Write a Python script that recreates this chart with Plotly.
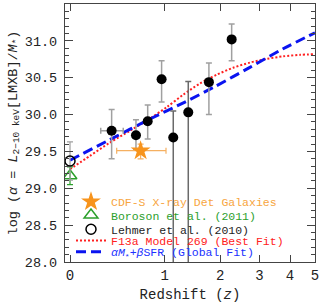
import plotly.graph_objects as go

# ---------------- data ----------------
# stacked black points
z_pts = [0.356, 0.620, 0.765, 0.954, 1.128, 1.375, 1.762, 2.262]
y_pts = [29.78, 29.72, 29.91, 30.48, 29.69, 30.03, 30.44, 31.02]
y_err_up = [0.29, 0.21, 0.22, 0.25, 0.36, 0.42, 0.26, 0.21]
y_err_dn = [0.38, 0.19, 0.24, 0.31, 2.00, 2.50, 0.44, 0.29]
z_lo = [0.252, 0.605, 0.750, 0.935, 1.110, 1.355, 1.735, 2.200]
z_hi = [0.476, 0.635, 0.780, 0.973, 1.146, 1.395, 1.789, 2.324]
err_col = ["#a0a0a0", "#a0a0a0", "#a0a0a0", "#a0a0a0", "#6a6a6a", "#6a6a6a", "#a0a0a0", "#a0a0a0"]

# CDF-S X-ray detected galaxies
z_star = [0.676]
y_star = [29.51]
z_star_lo = [0.407]
z_star_hi = [1.018]
y_star_up = [0.09]
y_star_dn = [0.11]

# Boroson et al. (2011)
z_bor = [0.0]
y_bor = [29.17]
y_bor_err = [0.12]

# Lehmer et al. (2010)
z_leh = [0.0]
y_leh = [29.37]
y_leh_err = [0.26]

# F13a Model 269 (best fit)
z_f13 = [0.0, 0.157, 0.339, 0.55, 0.755, 1.028, 1.29, 1.583, 1.922, 2.298, 2.727, 3.21, 3.755, 4.38, 5.0]
y_f13 = [29.26, 29.44, 29.62, 29.78, 29.92, 30.10, 30.27, 30.42, 30.54, 30.635, 30.705, 30.755, 30.79, 30.81, 30.82]

# alpha M* + beta SFR (global fit)
z_glob = [0.0, 0.339, 0.795, 1.318, 1.887, 2.727, 3.738, 5.0]
y_glob = [29.38, 29.66, 29.94, 30.17, 30.38, 30.64, 30.89, 31.11]

x_ticks = [0, 1, 2, 3, 4, 5]
y_ticks = [28.0, 28.5, 29.0, 29.5, 30.0, 30.5, 31.0, 31.5]

# ---------------- figure ----------------
FONT = "Liberation Mono"
fig = go.Figure()

def opz(z):
    return [1 + v for v in z]

# model curves
fig.add_trace(go.Scatter(
    x=opz(z_f13), y=y_f13, mode="lines", line=dict(color="#ff2020", width=2, dash="2px,2px",
                                                   shape="spline", smoothing=0.8),
    name="F13a Model 269 (Best Fit)", legend="legend4"))
fig.add_trace(go.Scatter(
    x=opz(z_glob), y=y_glob, mode="lines", line=dict(color="#0a14f0", width=3, dash="10px,5px",
                                                     shape="spline", smoothing=0.8),
    name="<i>α</i><i>M</i><sub>*</sub>+<i>β</i>SFR (Global Fit)", legend="legend5"))

# black stacked points
for i in range(len(z_pts)):
    fig.add_trace(go.Scatter(
        x=[1 + z_pts[i]], y=[y_pts[i]], mode="markers",
        marker=dict(color="black", size=10),
        error_y=dict(type="data", symmetric=False, array=[y_err_up[i]], arrayminus=[y_err_dn[i]],
                     color=err_col[i], thickness=1.5, width=3),
        error_x=dict(type="data", symmetric=False, array=[z_hi[i] - z_pts[i]], arrayminus=[z_pts[i] - z_lo[i]],
                     color=err_col[i], thickness=1.5, width=3),
        showlegend=False))

# star
fig.add_trace(go.Scatter(
    x=opz(z_star), y=y_star, mode="markers",
    marker=dict(symbol="star", color="#f7941d", size=15, line=dict(width=0)),
    error_y=dict(type="data", symmetric=False, array=y_star_up, arrayminus=y_star_dn,
                 color="#f5b061", thickness=1.2, width=3),
    error_x=dict(type="data", symmetric=False, array=[z_star_hi[0] - z_star[0]],
                 arrayminus=[z_star[0] - z_star_lo[0]], color="#f5b061", thickness=1.2, width=3),
    name="CDF-S X-ray Det Galaxies", legend="legend"))

# Boroson
fig.add_trace(go.Scatter(
    x=opz(z_bor), y=y_bor, mode="markers",
    marker=dict(symbol="triangle-up-open", color="#2ca02c", size=12, line=dict(width=1.5)),
    error_y=dict(type="data", array=y_bor_err, color="#2ca02c", thickness=1.2, width=3),
    name="Boroson et al. (2011)", legend="legend2"))

# Lehmer
fig.add_trace(go.Scatter(
    x=opz(z_leh), y=y_leh, mode="markers",
    marker=dict(symbol="circle-open", color="black", size=10, line=dict(width=1.5)),
    error_y=dict(type="data", array=y_leh_err, color="#a0a0a0", thickness=1.2, width=3),
    name="Lehmer et al. (2010)", legend="legend3"))

def leg(y, color):
    return dict(x=0.024, y=y, xanchor="left", yanchor="middle", bgcolor="rgba(0,0,0,0)",
                borderwidth=0, font=dict(family=FONT, size=11.5, color=color),
                itemwidth=30, tracegroupgap=0)

fig.update_layout(
    width=319, height=305,
    margin=dict(l=65, r=4, t=4, b=43),
    plot_bgcolor="white", paper_bgcolor="white",
    font=dict(family=FONT, color="#222"),
    legend=leg(0.234, "#f7a540"),
    legend2=leg(0.182, "#2ca02c"),
    legend3=leg(0.127, "#222222"),
    legend4=leg(0.083, "#ff2020"),
    legend5=leg(0.040, "#2030ff"),
    xaxis=dict(
        type="log", range=[-0.0159, 0.7782], automargin=False,
        tickvals=[1 + t for t in x_ticks], ticktext=[str(t) for t in x_ticks],
        ticks="inside", ticklen=7, tickcolor="#444", tickwidth=1,
        ticklabeloverflow="allow",
        showline=True, linecolor="#444", linewidth=1.2, mirror="ticks",
        showgrid=False, zeroline=False,
        tickfont=dict(family=FONT, size=14, color="#222"),
        title=dict(text="Redshift (<i>z</i>)", font=dict(family=FONT, size=14, color="#222"), standoff=6),
    ),
    yaxis=dict(
        range=[28.0, 31.5], automargin=False,
        tickvals=y_ticks, ticktext=[f"{t:.1f}" for t in y_ticks],
        ticks="inside", ticklen=8, tickcolor="#444", tickwidth=1,
        minor=dict(dtick=0.1, ticks="inside", ticklen=4, tickcolor="#444", tickwidth=1),
        showline=True, linecolor="#444", linewidth=1.2, mirror="ticks",
        showgrid=False, zeroline=False,
        tickfont=dict(family=FONT, size=13.5, color="#222"),
        ticklabelstandoff=4,
        title=dict(text="log (<i>α</i> = <i>L</i><sub>2−10 keV</sub>[LMXB]/<i>M</i><sub>*</sub>)",
                   font=dict(family=FONT, size=13.5, color="#222"), standoff=4),
    ),
)

fig.write_html("out.html", config={"displayModeBar": False},
               post_script="document.body.style.margin='0';document.body.style.overflow='hidden';")
